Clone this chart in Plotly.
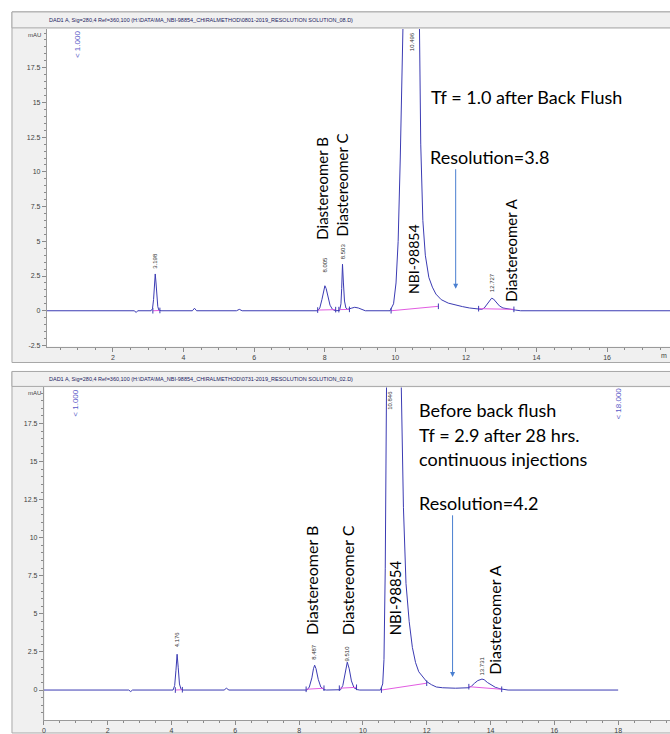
import plotly.graph_objects as go

W, H = 670, 734

# ---------------- data ----------------
# top run: after back flush (0801-2019 ... _08.D)
t_top = [0.13, 2.60, 2.66, 2.70, 3.08, 3.12, 3.15, 3.18, 3.198, 3.22, 3.24, 3.27, 3.30, 3.36,
         4.25, 4.31, 4.37, 5.50, 5.58, 5.66, 7.80, 7.86, 7.92, 7.97, 8.005, 8.04, 8.09, 8.15,
         8.22, 8.30, 8.42, 8.46, 8.48, 8.503, 8.53, 8.56, 8.60, 8.65, 8.75, 8.85, 8.95, 9.05,
         9.15, 9.85, 9.95, 10.02, 10.08, 10.14, 10.20, 10.30, 10.40, 10.496, 10.58, 10.66,
         10.72, 10.78, 10.85, 10.95, 11.05, 11.15, 11.30, 11.50, 11.70, 11.90, 12.10, 12.30,
         12.45, 12.52, 12.60, 12.68, 12.727, 12.78, 12.86, 12.95, 13.05, 13.20, 13.40, 13.55, 17.90]
mau_top = [0, 0, -0.12, 0, 0, 0.15, 0.8, 2.2, 2.65, 2.0, 1.0, 0.3, 0.05, 0,
           0, 0.18, 0, 0, 0.1, 0, 0, 0.2, 0.8, 1.5, 1.8, 1.6, 1.0, 0.4,
           0.1, 0, 0.02, 0.5, 1.6, 3.35, 2.0, 0.7, 0.2, 0.1, 0.18, 0.25, 0.2, 0.1,
           0, 0, 0.5, 2.0, 5.0, 11, 22, 40, 52, 55, 45, 25,
           12, 6.5, 4.0, 2.4, 1.7, 1.2, 0.8, 0.55, 0.4, 0.3, 0.2, 0.12,
           0.1, 0.2, 0.5, 0.8, 0.9, 0.85, 0.6, 0.35, 0.2, 0.12, 0.05, 0, 0]
# integration baselines (start time, end time, start mAU, end mAU)
bl_top_t0 = [3.13, 7.80, 8.40, 9.88, 12.36]
bl_top_t1 = [3.33, 8.31, 8.70, 11.22, 13.36]
bl_top_y0 = [0.0, 0.05, 0.08, 0.0, 0.15]
bl_top_y1 = [0.02, 0.08, 0.10, 0.32, 0.10]
pk_top_t = [3.198, 8.005, 8.503, 10.496, 12.727]
pk_top_lbl = ["3.198", "8.005", "8.503", "10.496", "12.727"]
pk_top_ylab = [2.9, 2.6, 3.6, None, 1.2]

# bottom run: before back flush (0731-2019 ... _02.D)
t_bot = [0.0, 2.66, 2.72, 2.78, 4.05, 4.10, 4.14, 4.176, 4.21, 4.25, 4.30, 4.36,
         5.65, 5.72, 5.80, 8.25, 8.32, 8.40, 8.45, 8.487, 8.53, 8.60, 8.68, 8.78, 8.85,
         9.30, 9.37, 9.44, 9.510, 9.57, 9.64, 9.72, 9.82, 9.90, 10.55, 10.62, 10.66, 10.70,
         10.74, 10.78, 10.846, 10.95, 11.10, 11.20, 11.27, 11.35, 11.45, 11.55, 11.65, 11.75,
         11.90, 12.00, 12.15, 12.30, 12.50, 12.90, 13.30, 13.40, 13.50, 13.60, 13.731, 13.80,
         13.90, 14.00, 14.15, 14.30, 14.45, 14.55, 18.00]
mau_bot = [0, 0, -0.1, 0, 0, 0.3, 1.3, 2.35, 1.5, 0.4, 0.05, 0,
           0, 0.12, 0, 0, 0.2, 0.8, 1.4, 1.63, 1.4, 0.7, 0.2, 0.03, 0,
           0.02, 0.3, 1.2, 1.83, 1.4, 0.6, 0.15, 0.03, 0, 0, 0.4, 2.0, 8,
           20, 40, 55, 48, 32, 20, 12, 7, 4.5, 2.8, 1.8, 1.2,
           0.8, 0.55, 0.35, 0.2, 0.15, 0.12, 0.15, 0.25, 0.45, 0.62, 0.72, 0.68,
           0.5, 0.35, 0.18, 0.08, 0.02, 0, 0]
bl_bot_t0 = [4.12, 8.22, 9.26, 10.58, 13.32]
bl_bot_t1 = [4.34, 8.78, 9.80, 12.00, 14.35]
bl_bot_y0 = [0.0, 0.05, 0.12, 0.0, 0.22]
bl_bot_y1 = [0.02, 0.12, 0.18, 0.45, 0.05]
pk_bot_t = [4.176, 8.487, 9.510, 10.846, 13.731]
pk_bot_lbl = ["4.176", "8.487", "9.510", "10.846", "13.731"]
pk_bot_ylab = [2.68, 1.83, 1.76, None, 0.85]

title_top = "DAD1 A, Sig=280,4 Ref=360,100 (H:\\DATA\\MA_NBI-98854_CHIRALMETHOD\\0801-2019_RESOLUTION SOLUTION_08.D)"
title_bot = "DAD1 A, Sig=280,4 Ref=360,100 (H:\\DATA\\MA_NBI-98854_CHIRALMETHOD\\0731-2019_RESOLUTION SOLUTION_02.D)"

# ---------------- styles ----------------
BLUE = "#3b3bb3"
MAG = "#e25ce2"
EVT = "#5a5ac8"
ARROW = "#4a7fd0"
GRAYBG = "#f0f0f0"
FRAME = "#a8a8a8"
SMALL = "Liberation Sans"
BIG = "Lato"


def px(x):
    return x / W


def py(y):
    return 1 - y / H


fig = go.Figure()

fig.add_trace(go.Scatter(x=t_top, y=mau_top, mode="lines", line=dict(color=BLUE, width=1),
                         xaxis="x", yaxis="y", hoverinfo="skip"))
for a, b, c, d in zip(bl_top_t0, bl_top_t1, bl_top_y0, bl_top_y1):
    fig.add_trace(go.Scatter(x=[a, b], y=[c, d], mode="lines+markers",
                             line=dict(color=MAG, width=1),
                             marker=dict(symbol="line-ns", size=4, line=dict(color=BLUE, width=1)),
                             xaxis="x", yaxis="y", hoverinfo="skip"))
fig.add_trace(go.Scatter(x=t_bot, y=mau_bot, mode="lines", line=dict(color=BLUE, width=1),
                         xaxis="x2", yaxis="y2", hoverinfo="skip"))
for a, b, c, d in zip(bl_bot_t0, bl_bot_t1, bl_bot_y0, bl_bot_y1):
    fig.add_trace(go.Scatter(x=[a, b], y=[c, d], mode="lines+markers",
                             line=dict(color=MAG, width=1),
                             marker=dict(symbol="line-ns", size=4, line=dict(color=BLUE, width=1)),
                             xaxis="x2", yaxis="y2", hoverinfo="skip"))

# frames / header bars (decoration)
shapes = []
for top, bot, hdr_b, left_ax, ax_bot, ptop in [(12, 364, 28, 45, 348, 29), (373, 736, 388, 43, 723, 389)]:
    shapes.append(dict(type="rect", xref="paper", yref="paper", x0=px(10), x1=px(672),
                       y0=py(bot), y1=py(top), fillcolor=GRAYBG, line=dict(color=FRAME, width=1), layer="below"))
    shapes.append(dict(type="rect", xref="paper", yref="paper", x0=px(10), x1=px(672),
                       y0=py(hdr_b), y1=py(top), fillcolor=GRAYBG, line=dict(color=FRAME, width=1), layer="below"))
    shapes.append(dict(type="rect", xref="paper", yref="paper", x0=px(left_ax), x1=px(672),
                       y0=py(ax_bot), y1=py(ptop), fillcolor="white", line=dict(width=0), layer="below"))

ax_common = dict(showgrid=False, zeroline=False, showline=True, linecolor="#9a9a9a", linewidth=1,
                 ticks="outside", ticklen=4, tickcolor="#8a8a8a", tickwidth=1,
                 tickfont=dict(family=SMALL, size=7, color="#404040"))
minor = dict(tickmode="linear", tick0=0, dtick=0.5, ticklen=2, tickcolor="#8a8a8a", ticks="outside")

fig.update_layout(
    width=W, height=H, margin=dict(l=0, r=0, t=0, b=0),
    paper_bgcolor="white", plot_bgcolor="white", showlegend=False,
    shapes=shapes,
    xaxis=dict(domain=[px(45), 1], range=[(45 - 40.5) / 35.4, (670 - 40.5) / 35.4], anchor="y",
               tickmode="linear", tick0=0, dtick=2, minor=minor, **ax_common),
    yaxis=dict(domain=[py(348), py(29)], range=[-2.58, 20.3], anchor="x",
               tickmode="array", tickvals=[-2.5, 0, 2.5, 5, 7.5, 10, 12.5, 15, 17.5],
               ticktext=["-2.5", "0", "2.5", "5", "7.5", "10", "12.5", "15", "17.5"],
               minor=minor, **ax_common),
    xaxis2=dict(domain=[px(42), 1], range=[0, (670 - 42) / 32.0], anchor="y2",
                tickmode="linear", tick0=0, dtick=2, minor=minor, **ax_common),
    yaxis2=dict(domain=[py(723), py(389)], range=[-1.97, 19.87], anchor="x2",
                tickmode="array", tickvals=[0, 2.5, 5, 7.5, 10, 12.5, 15, 17.5],
                ticktext=["0", "2.5", "5", "7.5", "10", "12.5", "15", "17.5"],
                minor=minor, **ax_common),
)

ann = []
# header titles and unit labels
ann.append(dict(xref="paper", yref="paper", x=px(200), y=py(20), text=title_top, showarrow=False,
                font=dict(family=SMALL, size=5.5, color="#1a1a60"), xanchor="center", yanchor="middle"))
ann.append(dict(xref="paper", yref="paper", x=px(200), y=py(381), text=title_bot, showarrow=False,
                font=dict(family=SMALL, size=5.5, color="#1a1a60"), xanchor="center", yanchor="middle"))
for yy in (35, 395):
    ann.append(dict(xref="paper", yref="paper", x=px(41), y=py(yy), text="mAU", showarrow=False,
                    font=dict(family=SMALL, size=6, color="#404040"), xanchor="right", yanchor="middle"))
ann.append(dict(xref="paper", yref="paper", x=px(669), y=py(357), text="m", showarrow=False,
                font=dict(family=SMALL, size=7, color="#404040"), xanchor="right", yanchor="middle"))

# event markers
ann.append(dict(xref="x", yref="paper", x=1.0, y=py(29), text="&lt; 1.000", showarrow=False, textangle=-90,
                font=dict(family=SMALL, size=8, color=EVT), xanchor="center", yanchor="top"))
ann.append(dict(xref="x2", yref="paper", x=1.0, y=py(389), text="&lt; 1.000", showarrow=False, textangle=-90,
                font=dict(family=SMALL, size=8, color=EVT), xanchor="center", yanchor="top"))
ann.append(dict(xref="x2", yref="paper", x=18.0, y=py(387), text="&lt; 18.000", showarrow=False, textangle=-90,
                font=dict(family=SMALL, size=8, color=EVT), xanchor="center", yanchor="top"))

# peak retention-time labels
for t, lbl, yl in zip(pk_top_t, pk_top_lbl, pk_top_ylab):
    if yl is None:
        ann.append(dict(xref="x", yref="paper", x=t, y=py(30), text=lbl, showarrow=False, textangle=-90,
                        font=dict(family=SMALL, size=6, color="#303030"), xanchor="center", yanchor="top"))
    else:
        ann.append(dict(xref="x", yref="y", x=t, y=yl, text=lbl, showarrow=False, textangle=-90,
                        font=dict(family=SMALL, size=6, color="#303030"), xanchor="center", yanchor="bottom"))
for t, lbl, yl in zip(pk_bot_t, pk_bot_lbl, pk_bot_ylab):
    if yl is None:
        ann.append(dict(xref="x2", yref="paper", x=t, y=py(390), text=lbl, showarrow=False, textangle=-90,
                        font=dict(family=SMALL, size=6, color="#303030"), xanchor="center", yanchor="top"))
    else:
        ann.append(dict(xref="x2", yref="y2", x=t, y=yl, text=lbl, showarrow=False, textangle=-90,
                        font=dict(family=SMALL, size=6, color="#303030"), xanchor="center", yanchor="bottom"))

# top compound labels
for x, y, txt, fs in [(7.9, 4.95, "Diastereomer B", 15), (8.5, 5.2, "Diastereomer C", 15),
                      (10.52, 1.08, "NBI-98854", 14), (13.29, 0.5, "Diastereomer A", 15)]:
    ann.append(dict(xref="x", yref="y", x=x, y=y, text=txt, showarrow=False, textangle=-90,
                    font=dict(family=BIG, size=fs, color="black"), xanchor="center", yanchor="bottom"))
HF = dict(family=BIG, size=18, color="black")
ann.append(dict(xref="x", yref="y", x=10.95, y=15.4, text="Tf = 1.0 after Back Flush", showarrow=False,
                font=HF, xanchor="left", yanchor="middle"))
ann.append(dict(xref="x", yref="y", x=10.92, y=11.1, text="Resolution=3.8", showarrow=False,
                font=HF, xanchor="left", yanchor="middle"))
ann.append(dict(xref="x", yref="y", axref="x", ayref="y", x=11.71, y=1.58, ax=11.71, ay=10.3, text="",
                showarrow=True, arrowhead=2, arrowsize=1, arrowwidth=1, arrowcolor=ARROW))

# bottom compound labels
for x, y, txt, fs in [(8.41, 3.46, "Diastereomer B", 16), (9.5, 3.46, "Diastereomer C", 16),
                      (10.99, 3.46, "NBI-98854", 15), (14.1, 0.85, "Diastereomer A", 16)]:
    ann.append(dict(xref="x2", yref="y2", x=x, y=y, text=txt, showarrow=False, textangle=-90,
                    font=dict(family=BIG, size=fs, color="black"), xanchor="center", yanchor="bottom"))
for y, txt in [(18.37, "Before back flush"), (16.73, "Tf = 2.9 after 28 hrs."), (15.16, "continuous injections")]:
    ann.append(dict(xref="x2", yref="y2", x=11.69, y=y, text=txt, showarrow=False,
                    font=HF, xanchor="left", yanchor="middle"))
ann.append(dict(xref="x2", yref="y2", x=11.69, y=12.29, text="Resolution=4.2", showarrow=False,
                font=HF, xanchor="left", yanchor="middle"))
ann.append(dict(xref="x2", yref="y2", axref="x2", ayref="y2", x=12.81, y=0.85, ax=12.81, ay=11.57, text="",
                showarrow=True, arrowhead=2, arrowsize=1, arrowwidth=1, arrowcolor=ARROW))

fig.update_layout(annotations=ann)
fig.write_html("out.html")
